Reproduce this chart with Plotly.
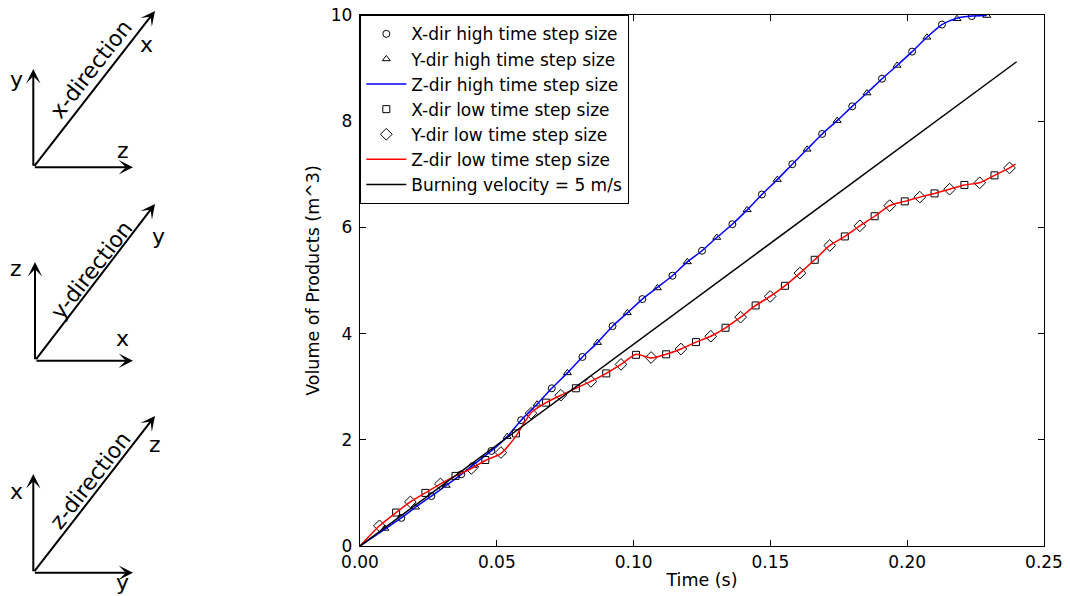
import plotly.graph_objects as go

# ---------------- data ----------------
# high time step size: X-dir (circles), Y-dir (triangles), Z-dir (blue line)
t_x_high = [0.0151, 0.0261, 0.0370, 0.0480, 0.0589, 0.0701, 0.0813, 0.0923, 0.1032, 0.1142,
            0.1250, 0.1361, 0.1469, 0.1580, 0.1689, 0.1799, 0.1908, 0.2018, 0.2127, 0.2236]
v_x_high = [0.53, 0.94, 1.35, 1.79, 2.37, 2.97, 3.56, 4.14, 4.65, 5.09,
            5.56, 6.06, 6.62, 7.19, 7.76, 8.28, 8.80, 9.31, 9.82, 9.98]

t_y_high = [0.0091, 0.0203, 0.0315, 0.0419, 0.0538, 0.0647, 0.0758, 0.0868, 0.0977, 0.1087,
            0.1196, 0.1304, 0.1415, 0.1525, 0.1634, 0.1744, 0.1853, 0.1963, 0.2072, 0.2182, 0.2291]
v_y_high = [0.33, 0.73, 1.14, 1.52, 2.06, 2.67, 3.26, 3.83, 4.39, 4.86,
            5.35, 5.81, 6.33, 6.90, 7.47, 8.01, 8.53, 9.05, 9.58, 9.93, 9.99]

t_z_high = [0.0, 0.0091, 0.0151, 0.0203, 0.0261, 0.0315, 0.0370, 0.0419, 0.0480, 0.0538,
            0.0589, 0.0647, 0.0701, 0.0758, 0.0813, 0.0868, 0.0923, 0.0977, 0.1032, 0.1087,
            0.1142, 0.1196, 0.1250, 0.1304, 0.1361, 0.1415, 0.1469, 0.1525, 0.1580, 0.1634,
            0.1689, 0.1744, 0.1799, 0.1853, 0.1908, 0.1963, 0.2018, 0.2072, 0.2127, 0.2182,
            0.2236, 0.2291]
v_z_high = [0.0, 0.32, 0.53, 0.73, 0.94, 1.14, 1.35, 1.55, 1.79, 2.06,
            2.37, 2.67, 2.97, 3.26, 3.56, 3.83, 4.14, 4.39, 4.65, 4.87,
            5.09, 5.35, 5.56, 5.81, 6.06, 6.33, 6.62, 6.90, 7.19, 7.47,
            7.76, 8.01, 8.28, 8.53, 8.80, 9.05, 9.31, 9.58, 9.82, 9.94,
            9.98, 9.99]

# low time step size: X-dir (squares), Y-dir (diamonds), Z-dir (red line)
t_x_low = [0.0132, 0.0239, 0.0349, 0.0458, 0.0570, 0.0680, 0.0789, 0.0900, 0.1009, 0.1119,
           0.1228, 0.1336, 0.1446, 0.1553, 0.1662, 0.1772, 0.1881, 0.1991, 0.2100, 0.2209, 0.2319]
v_x_low = [0.63, 1.00, 1.32, 1.62, 2.12, 2.70, 2.97, 3.25, 3.60, 3.61,
           3.84, 4.11, 4.53, 4.90, 5.39, 5.83, 6.21, 6.49, 6.64, 6.80, 6.98]

t_y_low = [0.0071, 0.0184, 0.0294, 0.0407, 0.0515, 0.0625, 0.0734, 0.0844, 0.0954, 0.1064,
           0.1173, 0.1282, 0.1391, 0.1499, 0.1608, 0.1717, 0.1827, 0.1936, 0.2046, 0.2155,
           0.2265, 0.2374]
v_y_low = [0.38, 0.83, 1.17, 1.46, 1.76, 2.50, 2.84, 3.10, 3.42, 3.55,
           3.71, 3.95, 4.31, 4.70, 5.14, 5.66, 6.03, 6.41, 6.57, 6.72,
           6.84, 7.12]

t_z_low = [0.0, 0.0071, 0.0132, 0.0184, 0.0239, 0.0294, 0.0349, 0.0407, 0.0458, 0.0515,
           0.0570, 0.0625, 0.0680, 0.0734, 0.0789, 0.0844, 0.0900, 0.0954, 0.1009, 0.1064,
           0.1119, 0.1173, 0.1228, 0.1282, 0.1336, 0.1391, 0.1446, 0.1499, 0.1553, 0.1608,
           0.1662, 0.1717, 0.1772, 0.1827, 0.1881, 0.1936, 0.1991, 0.2046, 0.2100, 0.2155,
           0.2209, 0.2265, 0.2319, 0.2374, 0.2396]
v_z_low = [0.0, 0.38, 0.63, 0.83, 1.00, 1.17, 1.32, 1.46, 1.61, 1.74,
           2.07, 2.51, 2.70, 2.84, 2.97, 3.10, 3.25, 3.42, 3.61, 3.54,
           3.61, 3.71, 3.84, 3.95, 4.11, 4.31, 4.53, 4.70, 4.90, 5.14,
           5.39, 5.66, 5.83, 6.03, 6.21, 6.41, 6.49, 6.57, 6.64, 6.72,
           6.80, 6.84, 6.98, 7.12, 7.19]

# reference line: burning velocity = 5 m/s
t_burn = [0.0, 0.24]
v_burn = [0.0, 9.12]

names = ["X-dir high time step size", "Y-dir high time step size", "Z-dir high time step size",
         "X-dir low time step size", "Y-dir low time step size", "Z-dir low time step size",
         "Burning velocity = 5 m/s"]

x_ticks = [0.00, 0.05, 0.10, 0.15, 0.20, 0.25]
y_ticks = [0, 2, 4, 6, 8, 10]

# ---------------- layout geometry ----------------
W, H = 1070, 596
ML, MR, MT, MB = 360, 26, 15, 50
PW, PH = W - ML - MR, H - MT - MB
FONT = "DejaVu Sans"


def fx(xpix):
    return (xpix - ML) / PW


def fy(ypix):
    return (H - MB - ypix) / PH


fig = go.Figure()

open_marker = dict(color="black", line=dict(color="black", width=1))

fig.add_trace(go.Scatter(x=t_x_high, y=v_x_high, mode="markers", name=names[0],
                         marker=dict(open_marker, symbol="circle-open", size=7)))
fig.add_trace(go.Scatter(x=t_y_high, y=v_y_high, mode="markers", name=names[1],
                         marker=dict(open_marker, symbol="triangle-up-open", size=7)))
fig.add_trace(go.Scatter(x=t_z_high, y=v_z_high, mode="lines", name=names[2],
                         line=dict(color="#0000ff", width=1.5, shape="spline", smoothing=0.6)))
fig.add_trace(go.Scatter(x=t_x_low, y=v_x_low, mode="markers", name=names[3],
                         marker=dict(open_marker, symbol="square-open", size=7)))
fig.add_trace(go.Scatter(x=t_y_low, y=v_y_low, mode="markers", name=names[4],
                         marker=dict(open_marker, symbol="diamond-open", size=9)))
fig.add_trace(go.Scatter(x=t_z_low, y=v_z_low, mode="lines", name=names[5],
                         line=dict(color="#ff0000", width=1.5, shape="spline", smoothing=0.6)))
fig.add_trace(go.Scatter(x=t_burn, y=v_burn, mode="lines", name=names[6],
                         line=dict(color="black", width=1.5)))

# ---------------- orientation diagrams (left side) ----------------
diagrams = [
    dict(origin=(33.3, 167.3), up=(33.3, 69), right=(133, 167.3), diag=(155, 11),
         up_lbl=("y", 16, 80), right_lbl=("z", 123, 150), diag_lbl=("x", 147, 44),
         title=("x-direction", 91, 70)),
    dict(origin=(35, 360.7), up=(35, 262), right=(133, 360.7), diag=(155, 204),
         up_lbl=("z", 16, 268), right_lbl=("x", 123, 339), diag_lbl=("y", 159, 236),
         title=("y-direction", 91, 270)),
    dict(origin=(33.3, 572.7), up=(33.3, 474), right=(133, 572.7), diag=(155, 416),
         up_lbl=("x", 16, 491), right_lbl=("y", 123, 582), diag_lbl=("z", 155, 444),
         title=("z-direction", 90, 480)),
]

annotations = []
for d in diagrams:
    ox, oy = d["origin"]
    for key in ("up", "right", "diag"):
        hx, hy = d[key]
        annotations.append(dict(
            x=fx(hx), y=fy(hy), xref="paper", yref="paper",
            ax=ox - hx, ay=oy - hy, axref="pixel", ayref="pixel",
            text="", showarrow=True, arrowhead=3, arrowsize=1.2,
            arrowwidth=2, arrowcolor="black", standoff=0, startstandoff=0))
    for key in ("up_lbl", "right_lbl", "diag_lbl"):
        txt, lx, ly = d[key]
        annotations.append(dict(
            x=fx(lx), y=fy(ly), xref="paper", yref="paper", text=txt,
            showarrow=False, xanchor="center", yanchor="middle",
            font=dict(family=FONT, size=22, color="black")))
    txt, lx, ly = d["title"]
    annotations.append(dict(
        x=fx(lx), y=fy(ly), xref="paper", yref="paper", text=txt,
        showarrow=False, xanchor="center", yanchor="middle", textangle=-52,
        font=dict(family=FONT, size=22, color="black")))

axis_common = dict(
    showline=True, linecolor="black", linewidth=1.3, mirror="ticks",
    ticks="inside", ticklen=6, tickwidth=1, tickcolor="black",
    showgrid=False, zeroline=False,
    tickfont=dict(family=FONT, size=17, color="black"),
)

fig.update_layout(
    width=W, height=H,
    margin=dict(l=ML, r=MR, t=MT, b=MB, autoexpand=False),
    plot_bgcolor="white", paper_bgcolor="white",
    font=dict(family=FONT, size=17, color="black"),
    xaxis=dict(axis_common, range=[0, 0.25], tickvals=x_ticks, tickformat=".2f",
               title=dict(text="Time (s)", font=dict(family=FONT, size=17.5), standoff=3)),
    yaxis=dict(axis_common, range=[0, 10], tickvals=y_ticks, ticklabelstandoff=3,
               title=dict(text="Volume of Products (m^3)", font=dict(family=FONT, size=17.5), standoff=6)),
    legend=dict(x=0, y=1, xanchor="left", yanchor="top",
                bgcolor="white", bordercolor="black", borderwidth=1.3,
                font=dict(family=FONT, size=17, color="black"),
                traceorder="normal", itemwidth=40),
    annotations=annotations,
    showlegend=True,
)

fig.write_html("out.html")
